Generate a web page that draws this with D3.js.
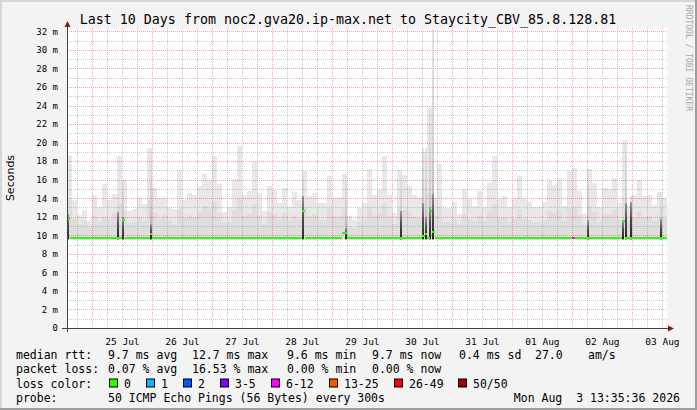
<!DOCTYPE html>
<html><head><meta charset="utf-8">
<script src="https://cdn.jsdelivr.net/npm/d3@7"></script>
<style>body{margin:0;background:#f3f3f3}svg{display:block}</style>
</head><body><svg id="c" width="697" height="410"></svg>
<script>
// ---------- data ----------
const titleText = "Last 10 Days from noc2.gva20.ip-max.net to Staycity_CBV_85.8.128.81";
const startTime = Date.UTC(2026, 6, 24, 13, 50);
const endTime = Date.UTC(2026, 7, 3, 13, 50);
const bucketHours = 2;
// top of smoke (max ping) per 2h bucket, ms
const pingMax = [18.5,13.8,12.2,12.7,11.5,14.3,13.1,15.5,13.8,14.5,18.6,16.0,12.6,12.8,14.0,13.4,19.4,15.1,14.0,14.0,13.0,12.8,16.9,13.8,
14.6,14.3,15.3,16.6,16.0,18.5,15.5,12.5,13.0,16.1,19.6,14.3,14.8,17.9,14.6,12.6,15.3,14.9,13.5,15.1,13.1,14.7,13.8,16.9,
14.2,14.6,13.5,13.5,16.4,14.0,14.1,16.6,12.1,11.6,12.9,13.5,17.2,14.4,14.9,18.6,14.4,12.4,17.0,16.5,15.3,14.3,14.0,19.0,
23.7,14.0,17.7,12.9,12.9,13.6,12.3,15.0,13.9,13.2,14.8,13.1,15.6,18.5,13.9,14.2,13.1,13.9,16.4,13.9,13.6,13.1,13.1,13.6,
15.9,15.4,16.2,13.2,16.9,17.3,14.8,12.3,17.1,15.6,13.1,15.1,15.0,16.2,13.5,20.3,13.3,14.3,16.0,14.2,14.3,13.3,14.7,14.0];
// top of the denser (medium grey) part of the smoke per bucket, ms
const pingHigh = [13.8,11.8,11.2,11.6,10.9,12.2,11.5,12.0,11.8,12.4,13.5,12.6,11.3,11.4,12.0,11.5,13.8,12.4,11.8,12.2,11.5,11.2,12.8,11.9,
12.2,12.0,12.6,13.2,12.8,13.6,12.4,11.3,11.4,12.7,13.9,12.1,12.3,13.4,12.2,11.2,12.5,12.3,11.7,12.4,11.5,12.2,11.8,13.2,
12.1,12.3,11.7,11.6,12.9,12.0,12.1,12.8,11.0,10.8,11.4,11.7,13.0,12.2,12.4,13.5,12.1,11.2,12.9,12.7,12.5,12.0,11.9,13.6,
14.5,12.2,13.0,11.4,11.4,11.8,11.1,12.3,11.8,11.5,12.2,11.5,12.6,13.4,11.9,12.0,11.4,11.8,12.8,11.8,11.7,11.4,11.4,11.7,
12.6,12.4,12.7,11.5,12.9,13.1,12.2,11.1,13.0,12.5,11.4,12.3,12.2,12.7,11.6,14.0,11.6,12.0,12.6,12.0,12.1,11.5,12.2,11.9];
const pingMin = 9.45;
// hourly columns where the pings were widely spread (dark smoke)
const denseHours = [0, 20, 22, 33, 94, 111, 133, 142, 143, 145, 146, 208, 222, 223, 225, 237];
const denseCore  = [12.3,12.5,12.0,11.2,14.2,10.8,12.6,13.5,12.0,13.0,14.5,11.6,11.6,13.5,13.6,11.8];
const denseTop   = [12.6,14.6,16.0,19.4,16.9,16.6,17.0,19.4,19.4,23.7,32.3,17.1,13.0,20.3,14.2,14.7];
// median rtt as step changes: [hour offset, ms]
const medianSteps = [[0,11.8],[1,9.7],[22,11.6],[23,9.7],[33,10.1],[34,9.7],[94,12.6],[95,9.7],[110,10.2],[112,9.7],
[142,9.9],[143,10.1],[144,9.7],[145,12.6],[146,10.4],[147,9.7],[222,11.5],[223,9.7],[240,9.7]];
// loss events: [hour offset, loss colour index]
const lossEvents = [[202, 4]];
const lossLabels = ["0","1","2","3-5","6-12","13-25","26-49","50/50"];
const lossColors = ["#26ff00","#00b8ff","#0059ff","#7e00ff","#ff00ff","#ff5500","#ff0000","#a10000"];
const yTickValues = [0,2,4,6,8,10,12,14,16,18,20,22,24,26,28,30,32];
const xLabels = ["25 Jul","26 Jul","27 Jul","28 Jul","29 Jul","30 Jul","31 Jul","01 Aug","02 Aug","03 Aug"];
const statRows = [
  ["median rtt:", ["9.7 ms avg","12.7 ms max","9.6 ms min","9.7 ms now","0.4 ms sd","27.0","am/s"]],
  ["packet loss:", ["0.07 % avg","16.53 % max","0.00 % min","0.00 % now"]]
];
const statX = [108,192,287,372,459,535,588];
const probeText = "50 ICMP Echo Pings (56 Bytes) every 300s";
const dateText = "Mon Aug  3 13:35:36 2026";

// ---------- drawing ----------
const W = 697, H = 410, L = 67, R = 667, T = 28, B = 328;
const HOUR = 3600e3;
const mono = "DejaVu Sans Mono";
const svg = d3.select("#c");
const x = d3.scaleUtc().domain([startTime, endTime]).range([L, R]);
const y = d3.scaleLinear().domain([0, 32.36]).range([B, T]);
const hx = h => x(startTime + h * HOUR);

svg.append("rect").attr("width", W).attr("height", H).attr("fill", "#f3f3f3");
svg.append("rect").attr("x",0).attr("y",0).attr("width",W).attr("height",2).attr("fill","#d6d6d6");
svg.append("rect").attr("x",0).attr("y",0).attr("width",2).attr("height",H).attr("fill","#d6d6d6");
svg.append("rect").attr("x",W-2).attr("y",0).attr("width",2).attr("height",H).attr("fill","#9e9e9e");
svg.append("rect").attr("x",0).attr("y",H-2).attr("width",W).attr("height",2).attr("fill","#9e9e9e");
svg.append("rect").attr("x", L).attr("y", T).attr("width", R - L).attr("height", B - T).attr("fill", "#fff");

const defs = svg.append("defs");
const g1 = defs.append("linearGradient").attr("id","topGrad").attr("x1",0).attr("y1",0).attr("x2",0).attr("y2",1);
g1.append("stop").attr("offset","0").attr("stop-color","#e4e4e4");
g1.append("stop").attr("offset","0.6").attr("stop-color","#cfcfcf");
g1.append("stop").attr("offset","1").attr("stop-color","#a2a2a2");
const g2 = defs.append("linearGradient").attr("id","coreGrad").attr("x1",0).attr("y1",0).attr("x2",0).attr("y2",1);
g2.append("stop").attr("offset","0").attr("stop-color","#9a9a9a");
g2.append("stop").attr("offset","0.5").attr("stop-color","#484848");
g2.append("stop").attr("offset","1").attr("stop-color","#222222");

const smoke = svg.append("g").attr("shape-rendering","crispEdges");
const bx0 = i => hx(i * bucketHours), bx1 = i => hx((i + 1) * bucketHours);
smoke.selectAll("rect.max").data(pingMax).join("rect").attr("class","max")
  .attr("x",(d,i)=>bx0(i)).attr("width",(d,i)=>bx1(i)-bx0(i))
  .attr("y",d=>y(d)).attr("height",d=>y(pingMin)-y(d)).attr("fill","#e8e8e8");
smoke.selectAll("rect.high").data(pingHigh).join("rect").attr("class","high")
  .attr("x",(d,i)=>bx0(i)).attr("width",(d,i)=>bx1(i)-bx0(i))
  .attr("y",d=>y(d)).attr("height",d=>y(9.6)-y(d)).attr("fill","#dedede");
const dense = denseHours.map((h,i)=>({h, core: denseCore[i], top: denseTop[i]}));
smoke.selectAll("rect.dtop").data(dense).join("rect").attr("class","dtop")
  .attr("x",d=>Math.round(hx(d.h))).attr("width",2)
  .attr("y",d=>y(d.top)).attr("height",d=>y(pingMin)-y(d.top)).attr("fill","url(#topGrad)");
smoke.selectAll("rect.dcore").data(dense).join("rect").attr("class","dcore")
  .attr("x",d=>Math.round(hx(d.h))).attr("width",2)
  .attr("y",d=>y(d.core)).attr("height",d=>y(9.6)-y(d.core)).attr("fill","url(#coreGrad)");

// grid (semi-transparent, drawn over the smoke like rrdtool)
const grid = svg.append("g").attr("shape-rendering","crispEdges").attr("stroke-dasharray","1,1");
const minorT = d3.utcHour.every(6).range(new Date(startTime), new Date(endTime)).filter(d => d.getUTCHours() !== 0);
const majorT = d3.utcDay.range(new Date(startTime), new Date(endTime));
const minorCol = "rgba(128,128,128,0.42)", majorCol = "rgba(255,0,0,0.36)";
grid.selectAll("line.vm").data(minorT).join("line").attr("x1",d=>Math.round(x(d))+0.5).attr("x2",d=>Math.round(x(d))+0.5)
  .attr("y1",T).attr("y2",B).attr("stroke",minorCol);
const minorY = d3.range(1, 33, 2);
grid.selectAll("line.hm").data(minorY).join("line").attr("y1",d=>Math.round(y(d))+0.5).attr("y2",d=>Math.round(y(d))+0.5)
  .attr("x1",L).attr("x2",R).attr("stroke",minorCol);
grid.selectAll("line.vM").data(majorT).join("line").attr("x1",d=>Math.round(x(d))+0.5).attr("x2",d=>Math.round(x(d))+0.5)
  .attr("y1",T).attr("y2",B).attr("stroke",majorCol);
grid.selectAll("line.hM").data(yTickValues.filter(v=>v>0)).join("line").attr("y1",d=>Math.round(y(d))+0.5).attr("y2",d=>Math.round(y(d))+0.5)
  .attr("x1",L).attr("x2",R).attr("stroke",majorCol);

// median
const med = svg.append("g").attr("shape-rendering","crispEdges");
const segs = medianSteps.slice(0,-1).map((s,i)=>({h0:s[0], h1:medianSteps[i+1][0], v:s[1]}));
med.selectAll("rect.m").data(segs).join("rect")
  .attr("x",d=>hx(d.h0)).attr("width",d=>hx(d.h1)-hx(d.h0))
  .attr("y",d=>y(d.v)-1).attr("height",2).attr("fill",lossColors[0]);
med.selectAll("rect.loss").data(lossEvents).join("rect")
  .attr("x",d=>hx(d[0])).attr("width",d=>hx(d[0]+1)-hx(d[0]))
  .attr("y",()=>y(9.7)-1).attr("height",2).attr("fill",d=>lossColors[d[1]]);

// axes
const ax = svg.append("g").attr("shape-rendering","crispEdges");
ax.append("line").attr("x1",L-5).attr("x2",R+2).attr("y1",B+0.5).attr("y2",B+0.5).attr("stroke","#404040");
ax.append("line").attr("x1",L+0.5).attr("x2",L+0.5).attr("y1",B+4).attr("y2",T-2).attr("stroke","#404040");
svg.append("path").attr("d",`M${L+0.5},${T-7} L${L-2.5},${T-1} L${L+3.5},${T-1} Z`).attr("fill","#8b1c1c");
svg.append("path").attr("d",`M${R+7},${B+0.5} L${R+1},${B-2.5} L${R+1},${B+3.5} Z`).attr("fill","#8b1c1c");

svg.append("g").selectAll("text").data(yTickValues).join("text")
  .attr("x",58).attr("y",d=>y(d)+3.3).attr("text-anchor","end")
  .attr("font-family",mono).attr("font-size","9px").attr("fill","#000")
  .text(d=> d===0 ? "0" : d + " m");
svg.append("g").selectAll("text").data(xLabels).join("text")
  .attr("x",(d,i)=>x(Date.UTC(2026,6,25+i,12))).attr("y",344.5).attr("text-anchor","middle")
  .attr("font-family",mono).attr("font-size","9.5px").attr("fill","#000")
  .text(d=>d);

svg.append("text").attr("transform","translate(14,178) rotate(-90)").attr("text-anchor","middle")
  .attr("font-family","DejaVu Sans").attr("font-size","11px").text("Seconds");

svg.append("text").attr("x",348).attr("y",23.5).attr("text-anchor","middle")
  .attr("font-family",mono).attr("font-size","13.3px").text(titleText);

svg.append("text").attr("transform","translate(685.5,5) rotate(90)")
  .attr("font-family",mono).attr("font-size","8px").attr("fill","#a8a8a8").text("RRDTOOL / TOBI OETIKER");

// legend
const leg = svg.append("g").attr("font-family",mono).attr("font-size","11.5px").attr("fill","#000");
const rowY = [358.5, 373, 387.5, 402];
statRows.forEach((r,ri)=>{
  leg.append("text").attr("x",16).attr("y",rowY[ri]).text(r[0]);
  r[1].forEach((t,j)=>leg.append("text").attr("x",statX[j]).attr("y",rowY[ri]).text(t));
});
leg.append("text").attr("x",16).attr("y",rowY[2]).text("loss color:");
const boxX = [109,146,183,220,271,329,394,458];
lossLabels.forEach((l,i)=>{
  leg.append("rect").attr("x",boxX[i]+0.5).attr("y",rowY[2]-8.5).attr("width",8).attr("height",8)
    .attr("fill",lossColors[i]).attr("stroke","#000").attr("stroke-width",1);
  leg.append("text").attr("x",boxX[i]+15).attr("y",rowY[2]).text(l);
});
leg.append("text").attr("x",16).attr("y",rowY[3]).text("probe:");
leg.append("text").attr("x",108).attr("y",rowY[3]).text(probeText);
leg.append("text").attr("x",680).attr("y",rowY[3]).attr("text-anchor","end").style("white-space","pre").text(dateText);
</script></body></html>
